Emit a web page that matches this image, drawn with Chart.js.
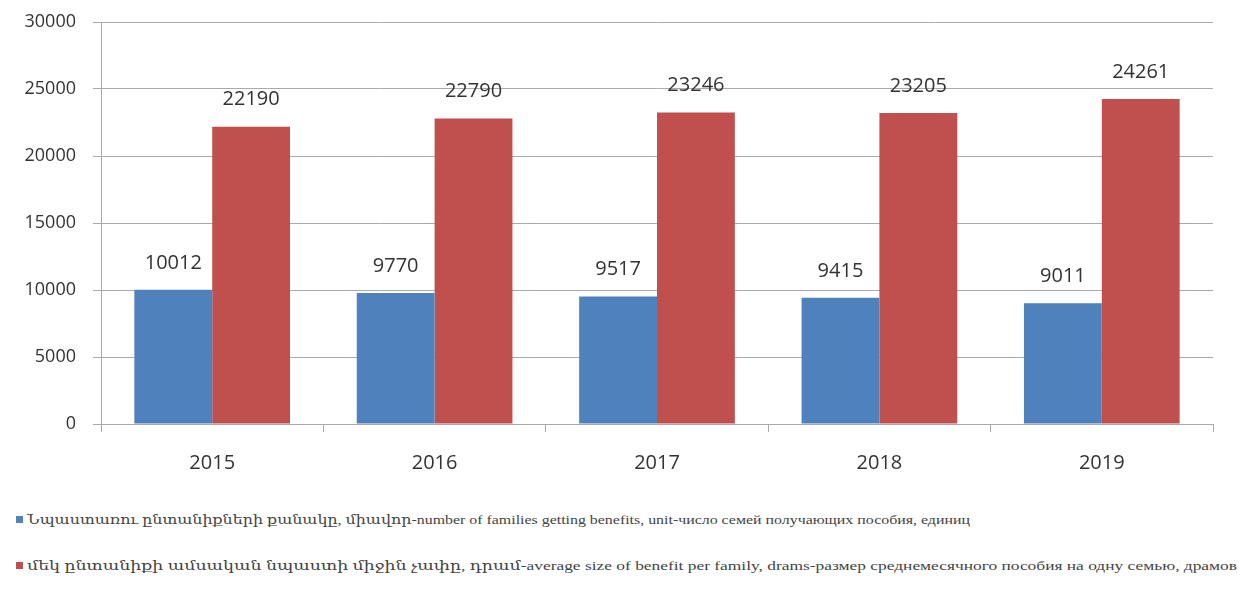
<!DOCTYPE html>
<html>
<head>
<meta charset="utf-8">
<script src="https://cdn.jsdelivr.net/npm/chart.js@4.4.1/dist/chart.umd.min.js"></script>
<style>
  html, body { margin: 0; padding: 0; background: #fff; }
  #wrap { position: relative; width: 1244px; height: 480px; }
  #legend { position: absolute; left: 16px; top: 512px; font-family: "Liberation Serif", "DejaVu Serif", serif; font-size: 13px; color: #444; }
  .item { position: absolute; left: 0; white-space: nowrap; }
  .box { display: inline-block; width: 7px; height: 7px; margin-right: 4px; vertical-align: 1px; }
  .txt { display: inline-block; transform-origin: 0 50%; }
</style>
</head>
<body>
<div id="wrap"><canvas id="chart"></canvas></div>
<div id="legend"></div>
<script>
// Datos del gráfico
const years = ['2015', '2016', '2017', '2018', '2019'];
const families = [10012, 9770, 9517, 9415, 9011];
const avgBenefit = [22190, 22790, 23246, 23205, 24261];

const labelFamilies = 'Նպաստառու  ընտանիքների  քանակը, միավոր-number  of families getting benefits, unit-число семей получающих  пособия,  единиц';
const labelBenefit = 'մեկ ընտանիքի  ամսական  նպաստի միջին  չափը, դրամ-average  size of benefit per family, drams-размер  среднемесячного  пособия на одну семью, драмов';

const blue = '#4F81BD';
const red = '#C0504D';

// Plugin para escribir los valores encima de las barras
const valueLabels = {
    id: 'valueLabels',
    afterDatasetsDraw(chart) {
        const ctx = chart.ctx;
        ctx.save();
        ctx.font = '20px "Open Sans", "Liberation Sans", sans-serif';
        ctx.fillStyle = '#333';
        ctx.textAlign = 'center';
        ctx.textBaseline = 'middle';
        chart.data.datasets.forEach((ds, i) => {
            chart.getDatasetMeta(i).data.forEach((bar, j) => {
                ctx.fillText(ds.data[j], bar.x, bar.y - 27);
            });
        });
        ctx.restore();
    }
};

const ctx = document.getElementById('chart').getContext('2d');
const chart = new Chart(ctx, {
    type: 'bar',
    data: {
        labels: years,
        datasets: [
            { label: labelFamilies, data: families, backgroundColor: blue },
            { label: labelBenefit, data: avgBenefit, backgroundColor: red }
        ]
    },
    options: {
        responsive: true,
        maintainAspectRatio: false,
        animation: false,
        layout: { padding: { top: 22, right: 31, bottom: 0, left: 0 } },
        plugins: {
            legend: { display: false },
            tooltip: { enabled: false }
        },
        datasets: { bar: { categoryPercentage: 0.7, barPercentage: 1.0 } },
        scales: {
            x: {
                offset: true,
                grid: { display: true, offset: true, drawOnChartArea: false, color: '#aaa', tickLength: 8 },
                border: { color: '#aaa' },
                ticks: { color: '#333', font: { size: 20, family: '"Open Sans", "Liberation Sans", sans-serif' }, padding: 19 },
                afterFit(scale) { scale.height = 56; }
            },
            y: {
                min: 0,
                max: 30000,
                ticks: {
                    stepSize: 5000,
                    color: '#333',
                    font: { size: 18, family: '"Open Sans", "Liberation Sans", sans-serif' },
                    padding: 17,
                    callback: v => String(v)
                },
                grid: { color: '#aaa', tickLength: 8 },
                border: { color: '#aaa' },
                afterFit(scale) {
                    scale.width = 101;
                    // el margen superior lo fija layout.padding
                    scale.paddingTop = 0;
                    scale.paddingBottom = 0;
                }
            }
        }
    },
    plugins: [valueLabels]
});

// Leyenda en HTML, estirada hasta el ancho del original
const legend = document.getElementById('legend');
[[blue, labelFamilies, 0, 943], [red, labelBenefit, 46, 1210]].forEach(([color, text, top, width]) => {
    const div = document.createElement('div');
    div.className = 'item';
    div.style.top = top + 'px';
    div.innerHTML = '<span class="box" style="background:' + color + '"></span><span class="txt"></span>';
    const txt = div.querySelector('.txt');
    txt.textContent = text;
    legend.appendChild(div);
    const w = txt.getBoundingClientRect().width;
    txt.style.transform = 'scaleX(' + (width / w) + ')';
});
</script>
</body>
</html>
